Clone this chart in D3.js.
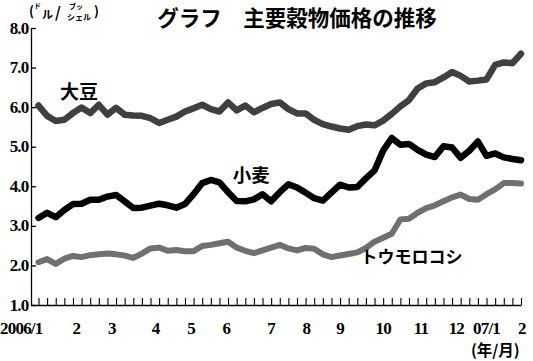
<!DOCTYPE html>
<html><head><meta charset="utf-8">
<script src="https://cdn.jsdelivr.net/npm/d3@7"></script>
<style>body{margin:0;background:#fff}svg{display:block}</style>
</head><body>
<svg id="c" width="533" height="361"></svg>
<script>
// weekly observations, 2006/1 first week .. 2007/2 first week (57 weeks)
const soybean = [6.04,5.78,5.65,5.68,5.85,5.99,5.85,6.06,5.81,5.98,5.81,5.79,5.78,5.72,5.60,5.68,5.76,5.89,5.97,6.06,5.95,5.89,6.12,5.92,6.04,5.87,5.98,6.08,6.12,5.95,5.84,5.84,5.68,5.57,5.51,5.46,5.43,5.52,5.56,5.54,5.66,5.83,6.02,6.18,6.47,6.60,6.63,6.75,6.89,6.79,6.65,6.67,6.70,7.07,7.13,7.11,7.35];
const wheat   = [3.20,3.33,3.22,3.40,3.55,3.56,3.66,3.66,3.74,3.78,3.62,3.45,3.46,3.51,3.56,3.52,3.46,3.55,3.80,4.08,4.16,4.10,3.85,3.63,3.62,3.67,3.80,3.62,3.85,4.05,3.97,3.84,3.70,3.64,3.84,4.04,3.97,3.98,4.20,4.40,4.90,5.22,5.05,5.07,4.92,4.80,4.74,5.01,4.98,4.72,4.90,5.13,4.77,4.83,4.73,4.69,4.66];
const corn    = [2.08,2.16,2.04,2.17,2.24,2.21,2.26,2.28,2.30,2.28,2.25,2.19,2.30,2.43,2.45,2.37,2.39,2.36,2.36,2.49,2.52,2.56,2.60,2.45,2.37,2.31,2.38,2.45,2.52,2.43,2.38,2.44,2.42,2.28,2.21,2.25,2.29,2.33,2.44,2.60,2.70,2.80,3.16,3.18,3.33,3.45,3.52,3.62,3.72,3.79,3.68,3.66,3.80,3.92,4.08,4.08,4.07];
const seriesNames = ["大豆","小麦","トウモロコシ"];
const monthLabels = ["2006/1","2","3","4","5","6","7","8","9","10","11","12","07/1","2"];
const monthWeek   = [-2,4.4,8.5,13.6,17.7,21.8,27,31.1,35,40,44.4,48.5,52,56.1];
const yTicks = [1,2,3,4,5,6,7,8];
const title = "グラフ\u3000主要穀物価格の推移";

const svg = d3.select("#c");
const x = d3.scaleLinear().domain([0, 56]).range([38.5, 521]);
const y = d3.scaleLinear().domain([1, 8]).range([305, 28]);
const serif = "'Liberation Serif','DejaVu Serif',serif";
const jp = "'Noto Sans CJK JP','Noto Sans CJK SC',sans-serif";

// title
svg.append("text").attr("x", 297).attr("y", 25.5).attr("text-anchor","middle")
  .attr("font-family", jp).attr("font-weight","bold").attr("font-size",21.5).text(title);

// unit label
const u = svg.append("g").attr("font-family", jp).attr("font-weight","bold");
u.append("text").attr("x",29).attr("y",16).attr("font-size",13).text("(");
u.append("text").attr("x",34).attr("y",8).attr("font-size",7).text("ド");
u.append("text").attr("x",42).attr("y",19).attr("font-size",11).text("ル");
u.append("text").attr("x",55).attr("y",18).attr("font-size",15).text("/");
u.append("text").attr("x",69).attr("y",9).attr("font-size",7).text("ブッ");
u.append("text").attr("x",67).attr("y",20).attr("font-size",8).text("シェル");
u.append("text").attr("x",94).attr("y",16).attr("font-size",13).text(")");

// y axis
const yAxis = d3.axisRight(y).tickValues(yTicks).tickSize(5).tickFormat("");
const gy = svg.append("g").attr("transform","translate(31,0)").call(yAxis);
gy.select(".domain").attr("d", `M0.5,${y(8)}V${y(1)}`).attr("stroke","#000").attr("stroke-width",1.3);
gy.selectAll(".tick line").attr("stroke","#000").attr("stroke-width",1.3);
svg.append("g").selectAll("text").data(yTicks).join("text")
  .attr("x", 28.5).attr("y", d => y(d) + 5.5).attr("text-anchor","end")
  .attr("font-family", serif).attr("font-weight","bold").attr("font-size",17)
  .attr("letter-spacing",-0.8)
  .text(d => d.toFixed(1));

// x axis
const weeks = d3.range(0, 57);
const xAxis = d3.axisTop(x).tickValues(weeks).tickSize(7).tickFormat("");
const gx = svg.append("g").attr("transform","translate(0,305)").call(xAxis);
gx.select(".domain").attr("d", `M31,0.5H${x(56)+0.5}`).attr("stroke","#000").attr("stroke-width",1.3);
gx.selectAll(".tick line").attr("stroke","#000").attr("stroke-width",1.1);
svg.append("g").selectAll("text").data(monthLabels).join("text")
  .attr("x", (d,i) => x(monthWeek[i])).attr("y", 334).attr("text-anchor","middle")
  .attr("font-family", serif).attr("font-weight","bold").attr("font-size",17)
  .attr("letter-spacing",-0.8)
  .text(d => d);
svg.append("text").attr("x", 471).attr("y", 356).attr("font-family", jp)
  .attr("font-size",15.5).attr("font-weight","bold").text("(年/月)");

// lines
const line = d3.line().x((d,i) => x(i)).y(d => y(d));
const series = [
  {v: corn, c: "#707070", w: 6},
  {v: soybean, c: "#404040", w: 6.5},
  {v: wheat, c: "#000000", w: 6.5}
];
svg.append("g").selectAll("path").data(series).join("path")
  .attr("d", d => line(d.v)).attr("fill","none")
  .attr("stroke", d => d.c).attr("stroke-width", d => d.w)
  .attr("stroke-linejoin","round").attr("stroke-linecap","round");

// series labels
const lab = [
  {t: seriesNames[0], xi: 4.7, v: 6.2, s: 19},
  {t: seriesNames[1], xi: 24.7, v: 4.1, s: 18.5},
  {t: seriesNames[2], xi: 43.3, v: 2.05, s: 17}
];
svg.append("g").selectAll("text").data(lab).join("text")
  .attr("x", d => x(d.xi)).attr("y", d => y(d.v)).attr("text-anchor","middle")
  .attr("font-family", jp).attr("font-weight","bold").attr("font-size", d => d.s)
  .text(d => d.t);
</script>
</body></html>
